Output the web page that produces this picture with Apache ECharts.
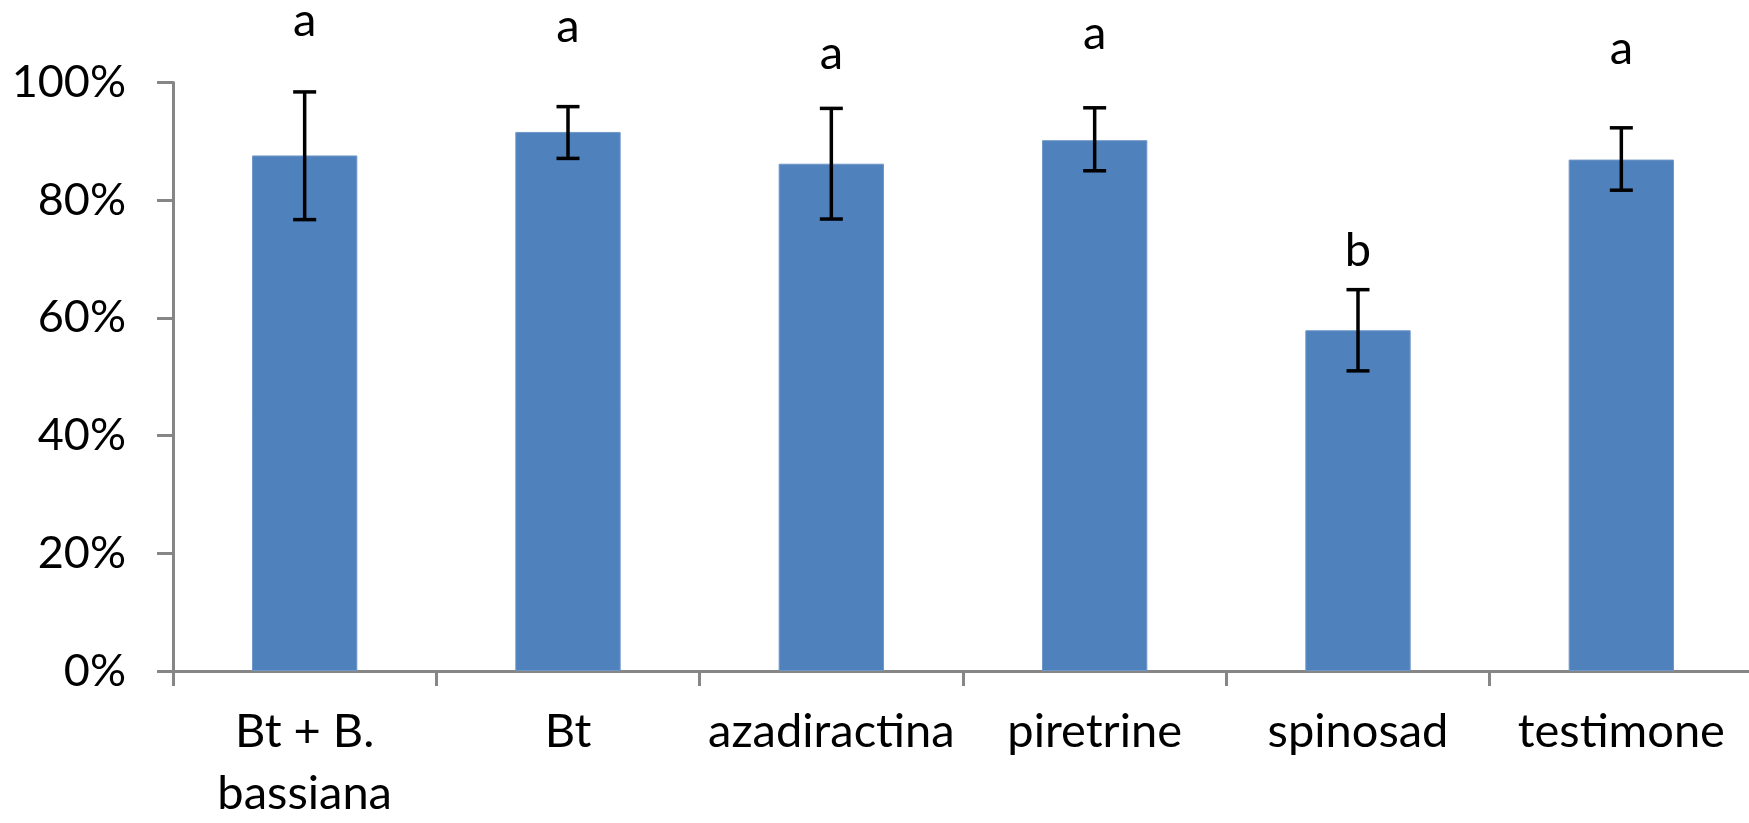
<!DOCTYPE html>
<html>
<head>
<meta charset="utf-8">
<script src="https://cdn.jsdelivr.net/npm/echarts@6/dist/echarts.min.js"></script>
<style>
html,body{margin:0;padding:0;background:#fff;}
#chart{width:1749px;height:823px;}
</style>
</head>
<body>
<div id="chart"></div>
<script>
var categories = ['Bt + B.\nbassiana', 'Bt', 'azadiractina', 'piretrine', 'spinosad', 'testimone'];
var means = [87.6, 91.6, 86.2, 90.2, 57.9, 86.9];
var errUpper = [98.4, 95.9, 95.6, 95.7, 64.8, 92.3];
var errLower = [76.7, 87.1, 76.8, 85.0, 51.0, 81.7];
var letters = ['a', 'a', 'a', 'a', 'b', 'a'];
var letterPos = [107.7, 106.7, 102.1, 105.5, 68.6, 103.0];
var yTicks = [0, 20, 40, 60, 80, 100];

var FONT = 'Lato, "Open Sans", sans-serif';
var AXIS = '#868686';

var chart = echarts.init(document.getElementById('chart'));

var errData = means.map(function (m, i) { return [i, errLower[i], errUpper[i]]; });
var letterData = letters.map(function (l, i) { return [i, letterPos[i], l]; });

chart.setOption({
  animation: false,
  backgroundColor: '#ffffff',
  grid: { left: 173, top: 82.5, width: 1580, bottom: 152, containLabel: false, outerBoundsMode: 'none' },
  xAxis: {
    type: 'category',
    data: categories,
    boundaryGap: true,
    axisLine: { show: true, lineStyle: { color: AXIS, width: 3 } },
    axisTick: { show: true, alignWithLabel: false, length: 15, lineStyle: { color: AXIS, width: 3 } },
    axisLabel: { color: '#000', fontFamily: FONT, fontSize: 47, lineHeight: 62, margin: 30, interval: 0 }
  },
  yAxis: {
    type: 'value',
    min: yTicks[0],
    max: yTicks[yTicks.length - 1],
    interval: 20,
    splitLine: { show: false },
    axisLine: { show: true, lineStyle: { color: AXIS, width: 3 } },
    axisTick: { show: true, inside: false, length: 16, lineStyle: { color: AXIS, width: 3 } },
    axisLabel: { color: '#000', fontFamily: FONT, fontSize: 45, margin: 47, formatter: '{value}%' }
  },
  series: [
    {
      type: 'bar',
      data: means,
      barWidth: '40%',
      itemStyle: { color: '#4F81BD', borderColor: '#6F97C8', borderWidth: 1 }
    },
    {
      type: 'custom',
      data: errData,
      z: 5,
      renderItem: function (params, api) {
        var x = api.value(0);
        var lo = api.coord([x, api.value(1)]);
        var hi = api.coord([x, api.value(2)]);
        var cw = 11.5;
        var st = { stroke: '#000', lineWidth: 3.5 };
        return {
          type: 'group',
          children: [
            { type: 'line', shape: { x1: hi[0], y1: hi[1], x2: lo[0], y2: lo[1] }, style: st },
            { type: 'line', shape: { x1: hi[0] - cw, y1: hi[1], x2: hi[0] + cw, y2: hi[1] }, style: st },
            { type: 'line', shape: { x1: lo[0] - cw, y1: lo[1], x2: lo[0] + cw, y2: lo[1] }, style: st }
          ]
        };
      }
    },
    {
      type: 'custom',
      data: letterData,
      z: 6,
      clip: false,
      renderItem: function (params, api) {
        var p = api.coord([api.value(0), api.value(1)]);
        return {
          type: 'text',
          x: p[0],
          y: p[1] + 7,
          style: {
            text: letters[params.dataIndex],
            fill: '#000',
            font: '47px ' + FONT,
            align: 'center',
            verticalAlign: 'bottom'
          }
        };
      }
    }
  ]
});
</script>
</body>
</html>
